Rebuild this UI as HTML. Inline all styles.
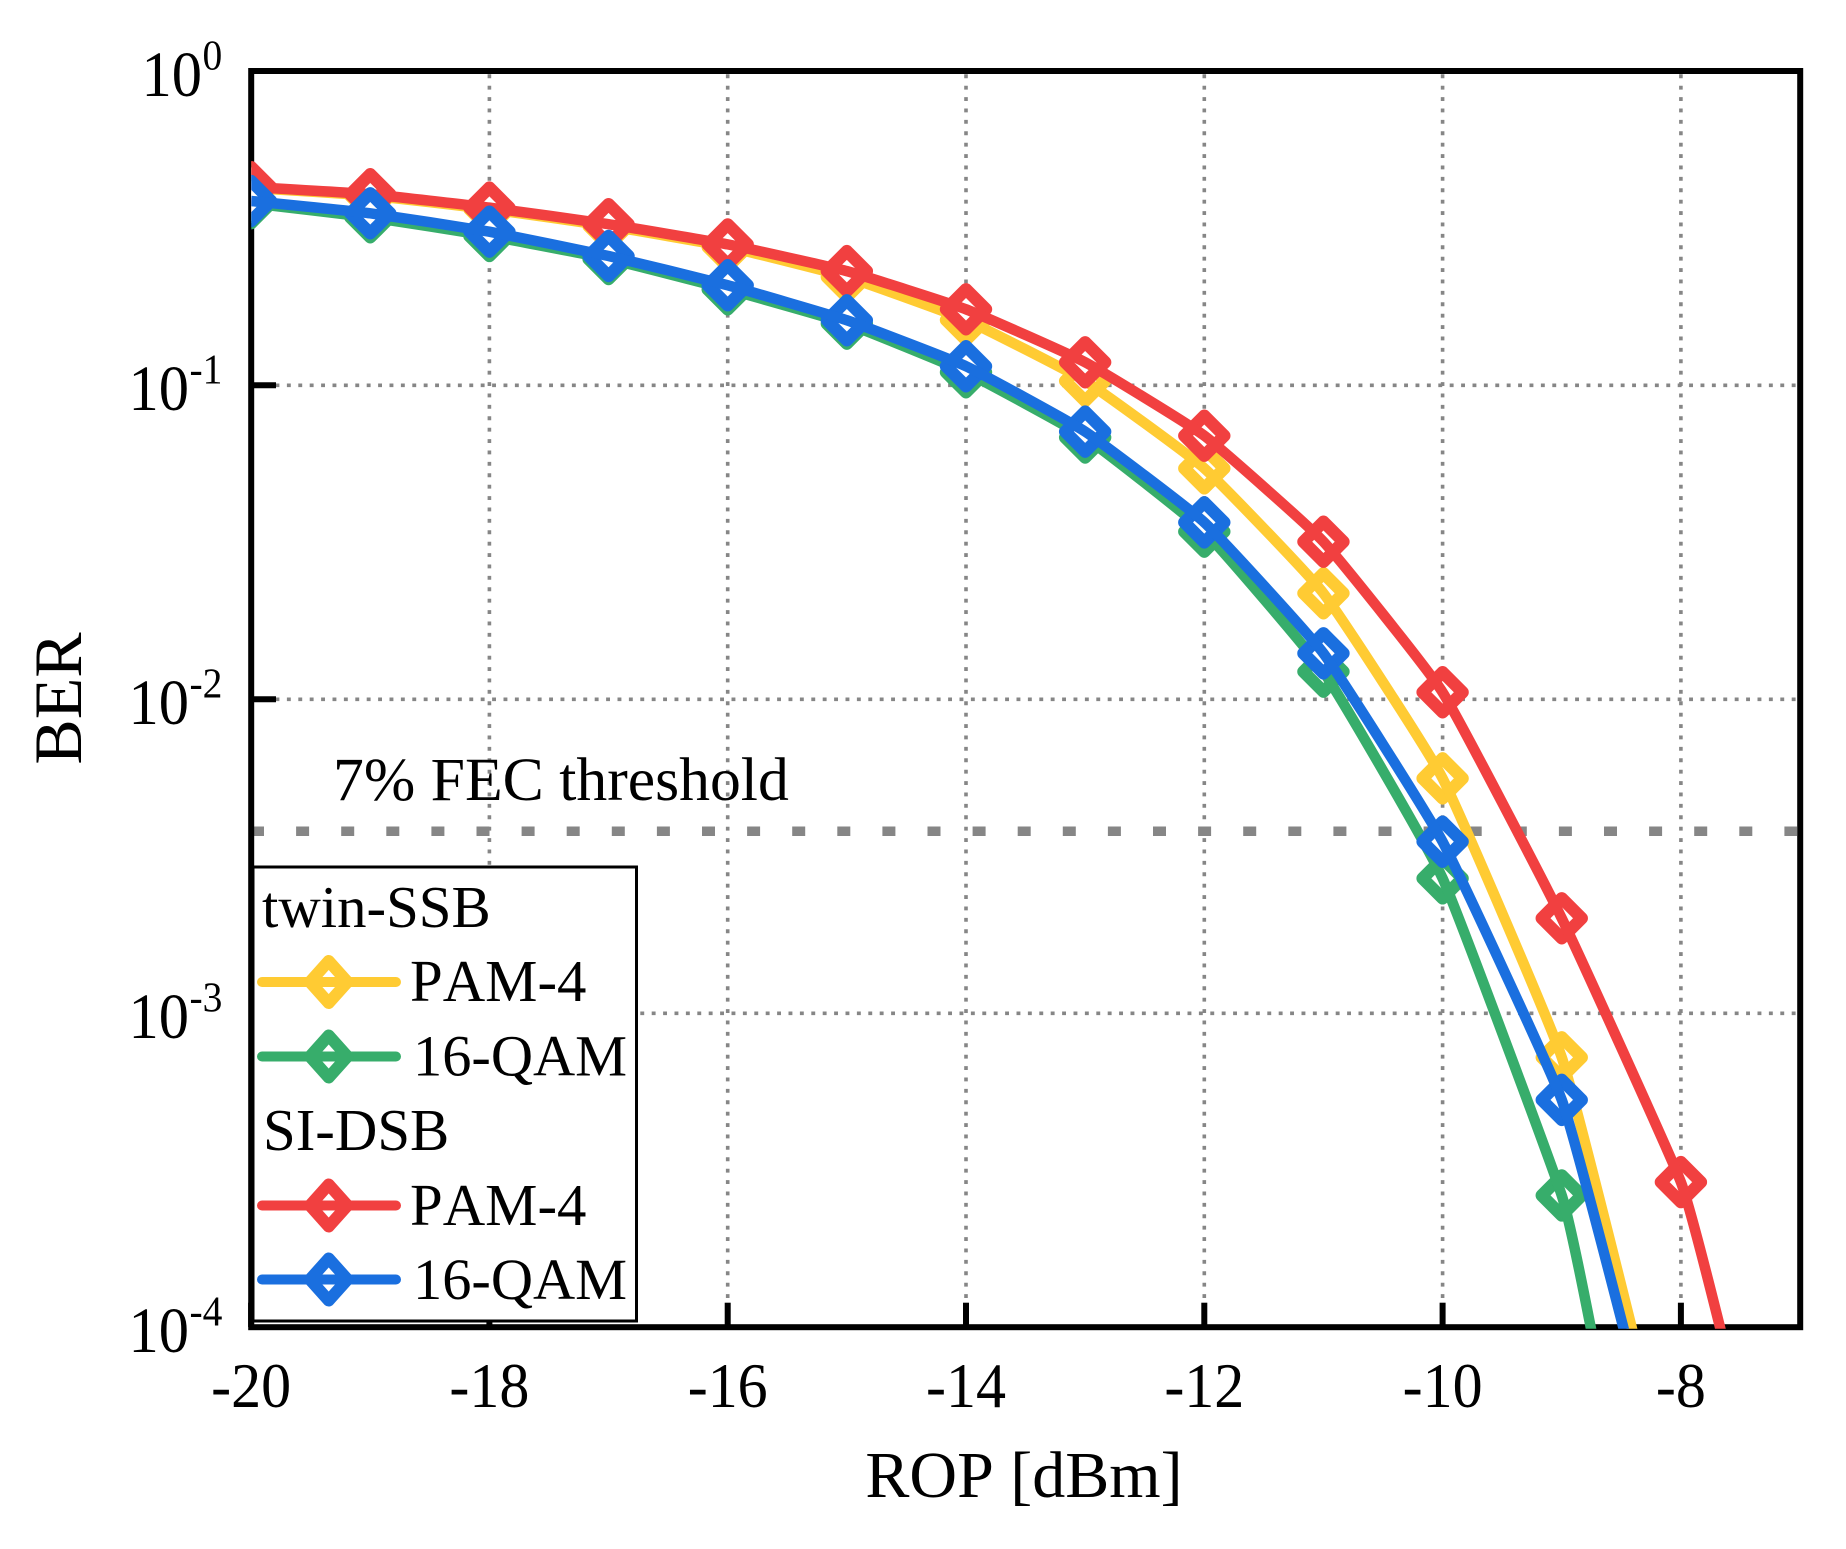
<!DOCTYPE html>
<html lang="en">
<head>
<meta charset="utf-8">
<title>BER vs ROP</title>
<style>
html,body{margin:0;padding:0;background:#fff;width:1846px;height:1549px;overflow:hidden;}
svg{display:block;overflow:hidden;}
text{font-family:"Liberation Serif",serif;fill:#000;font-kerning:none;}
</style>
</head>
<body>
<svg id="chart" xmlns="http://www.w3.org/2000/svg" width="1846" height="1549" viewBox="0 0 1846 1549">
<defs><clipPath id="plot-clip"><rect x="251.3" y="71" width="1549" height="1257.7"/></clipPath></defs>
<g id="grid"></g>
<line id="threshold" stroke="#868686" stroke-width="9.5" stroke-dasharray="13 32.1"/>
<rect x="251.2" y="71" width="1549" height="1256.2" fill="none" stroke="#000" stroke-width="6"/>
<g id="ticks"></g>
<g id="series" clip-path="url(#plot-clip)"></g>
<text x="333" y="800" font-size="61.7">7% FEC threshold</text>
<g>
<rect x="253" y="867" width="383.5" height="454" fill="#fff" stroke="#000" stroke-width="3"/>
<text x="262" y="927" font-size="58.8">twin-SSB</text>
<g>
<line x1="262" y1="982" x2="396" y2="982" stroke="#FFCB33" stroke-width="10" stroke-linecap="round"/>
<path d="M328.7 961 L347.5 982 L328.7 1003 L309.9 982 Z" fill="none" stroke="#FFCB33" stroke-width="12" stroke-linejoin="round"/>
<text x="410" y="1001" font-size="58.8">PAM-4</text>
</g>
<g>
<line x1="262" y1="1056.5" x2="396" y2="1056.5" stroke="#37AD6B" stroke-width="10" stroke-linecap="round"/>
<path d="M328.7 1035.5 L347.5 1056.5 L328.7 1077.5 L309.9 1056.5 Z" fill="none" stroke="#37AD6B" stroke-width="12" stroke-linejoin="round"/>
<text x="413" y="1075.5" font-size="58.4">16-QAM</text>
</g>
<text x="263" y="1150" font-size="58.8">SI-DSB</text>
<g>
<line x1="262" y1="1205.5" x2="396" y2="1205.5" stroke="#F14040" stroke-width="10" stroke-linecap="round"/>
<path d="M328.7 1184.5 L347.5 1205.5 L328.7 1226.5 L309.9 1205.5 Z" fill="none" stroke="#F14040" stroke-width="12" stroke-linejoin="round"/>
<text x="410" y="1225" font-size="58.8">PAM-4</text>
</g>
<g>
<line x1="262" y1="1279.5" x2="396" y2="1279.5" stroke="#1A6FDF" stroke-width="10" stroke-linecap="round"/>
<path d="M328.7 1258.5 L347.5 1279.5 L328.7 1300.5 L309.9 1279.5 Z" fill="none" stroke="#1A6FDF" stroke-width="12" stroke-linejoin="round"/>
<text x="413" y="1299" font-size="58.4">16-QAM</text>
</g>
</g>
<text x="1024" y="1497" font-size="66" text-anchor="middle">ROP [dBm]</text>
<text x="81" y="698.5" font-size="68" text-anchor="middle" transform="rotate(-90 81 698.5)">BER</text>
</svg>
<script>
const rop = [-20,-19,-18,-17,-16,-15,-14,-13,-12,-11,-10,-9,-8];
const ropRed = [-20,-19,-18,-17,-16,-15,-14,-13,-12,-11,-10,-9,-8,-7];
const twinPam4 = [0.425,0.402,0.364,0.3216,0.2758,0.2213,0.1614,0.1032,0.0544,0.02176,0.0056,7.24e-4,2.47e-5];
const twinQam16 = [0.380,0.3428,0.2989,0.2525,0.2021,0.1572,0.11,0.0682,0.0342,0.01225,0.00269,2.63e-4,4.82e-6];
const siPam4 = [0.428,0.406,0.368,0.326,0.281,0.231,0.1746,0.1184,0.0691,0.03176,0.01053,0.002007,2.9e-4,1.12e-5];
const siQam16 = [0.3863,0.353,0.3085,0.2581,0.2083,0.1611,0.115,0.0712,0.0366,0.01401,0.00352,5.3e-4,2.09e-5];
const xTicks = [-20,-18,-16,-14,-12,-10,-8];
const yExponents = [0,-1,-2,-3,-4];
const yGridExponents = [-1,-2,-3];
const fecThreshold = 3.8e-3;

const NS = 'http://www.w3.org/2000/svg';
const X0 = 251.1, XU = 119.15, Y0 = 71.3, YD = 314;
const STRETCH = 1.06;
const CUT_Y = 1336;
function xs(v){ return X0 + (v + 20) * XU; }
function ys(v){ return Y0 - Math.log10(v) * YD; }
function mk(tag, attrs, parent){
  const el = document.createElementNS(NS, tag);
  for (const k in attrs) el.setAttribute(k, attrs[k]);
  parent.appendChild(el);
  return el;
}
const grid = document.getElementById('grid');
const ticks = document.getElementById('ticks');
const seriesG = document.getElementById('series');
const svg = document.getElementById('chart');
function stretched(x, y){ return 'translate(' + x + ' ' + y + ') scale(1 ' + STRETCH + ')'; }

xTicks.forEach(function(t){
  if (t !== -20) {
    const g = mk('line', {x1:xs(t), x2:xs(t), y1:Y0+3, y2:Y0+1232, stroke:'#868686', 'stroke-width':3.6, 'stroke-dasharray':'3.9 7.5'}, grid);
    
    
  }
  const m = mk('line', {x1:xs(t), x2:xs(t), y1:1327, y2:1302.7, stroke:'#000', 'stroke-width':6}, ticks);
  
  
  const lab = mk('text', {x:0, y:0, 'font-size':60, 'text-anchor':'middle', transform:stretched(xs(t), 1407)}, svg);
  lab.textContent = String(t);
  
  
});
yGridExponents.forEach(function(e){
  const y = ys(Math.pow(10, e));
  const g = mk('line', {x1:xs(-20)+1.6, x2:1798, y1:y, y2:y, stroke:'#868686', 'stroke-width':3.6, 'stroke-dasharray':'3.9 7.5'}, grid);
  
  
});
yExponents.forEach(function(e){
  const y = ys(Math.pow(10, e));
  if (e !== 0 && e !== -4) {
    const m = mk('line', {x1:251, x2:276, y1:y, y2:y, stroke:'#000', 'stroke-width':6}, ticks);
    
    
  }
  const neg = e < 0;
  const baseX = neg ? 128.5 : 141.5;
  const lab = mk('text', {x:0, y:0, 'font-size':60.5, transform:stretched(baseX, y+24.5)}, svg);
  lab.textContent = '10';
  
  
  const sup = mk('text', {x:0, y:0, 'font-size':39.5, transform:stretched(baseX+61, y-1.8)}, svg);
  sup.textContent = String(e);
  
  
});

const th = document.getElementById('threshold');
th.setAttribute('x1', 251);
th.setAttribute('x2', 1797);
th.setAttribute('y1', ys(fecThreshold));
th.setAttribute('y2', ys(fecThreshold));

function curve(pts){
  const k = 16;
  let d = 'M' + pts[0][0] + ' ' + pts[0][1];
  for (let i = 0; i < pts.length - 1; i++) {
    const p0 = pts[Math.max(i-1,0)], p1 = pts[i], p2 = pts[i+1], p3 = pts[Math.min(i+2,pts.length-1)];
    const c1x = p1[0] + (p2[0]-p0[0])/k, c1y = p1[1] + (p2[1]-p0[1])/k;
    const c2x = p2[0] - (p3[0]-p1[0])/k, c2y = p2[1] - (p3[1]-p1[1])/k;
    d += ' C' + c1x + ' ' + c1y + ' ' + c2x + ' ' + c2y + ' ' + p2[0] + ' ' + p2[1];
  }
  return d;
}
function trimToAxis(pts){
  const out = [];
  for (let i = 0; i < pts.length; i++) {
    if (pts[i][1] <= CUT_Y) { out.push(pts[i]); continue; }
    if (i > 0) {
      const a = pts[i-1], b = pts[i];
      const t = (CUT_Y - a[1]) / (b[1] - a[1]);
      out.push([a[0] + (b[0]-a[0]) * t, CUT_Y]);
    }
    break;
  }
  return out;
}
function drawSeries(name, xsData, values, color){
  const g = mk('g', {}, seriesG);
  
  
  const pts = trimToAxis(values.map(function(v, i){ return [xs(xsData[i]), ys(v)]; }));
  pts.forEach(function(p){
    if (p[1] >= CUT_Y) return;
    const hw = 20;
    const d = 'M' + p[0] + ' ' + (p[1]-hw) + ' L' + (p[0]+hw) + ' ' + p[1] + ' L' + p[0] + ' ' + (p[1]+hw) + ' L' + (p[0]-hw) + ' ' + p[1] + ' Z';
    const m = mk('path', {d:d, fill:'#fff', stroke:color, 'stroke-width':12.4, 'stroke-linejoin':'round'}, g);
    
    
  });
  const l = mk('path', {d:curve(pts), fill:'none', stroke:color, 'stroke-width':10.5, 'stroke-linejoin':'round'}, g);
  
  
}
drawSeries('twin-ssb-pam4', rop, twinPam4, '#FFCB33');
drawSeries('twin-ssb-16qam', rop, twinQam16, '#37AD6B');
drawSeries('si-dsb-pam4', ropRed, siPam4, '#F14040');
drawSeries('si-dsb-16qam', rop, siQam16, '#1A6FDF');
</script>
</body>
</html>
